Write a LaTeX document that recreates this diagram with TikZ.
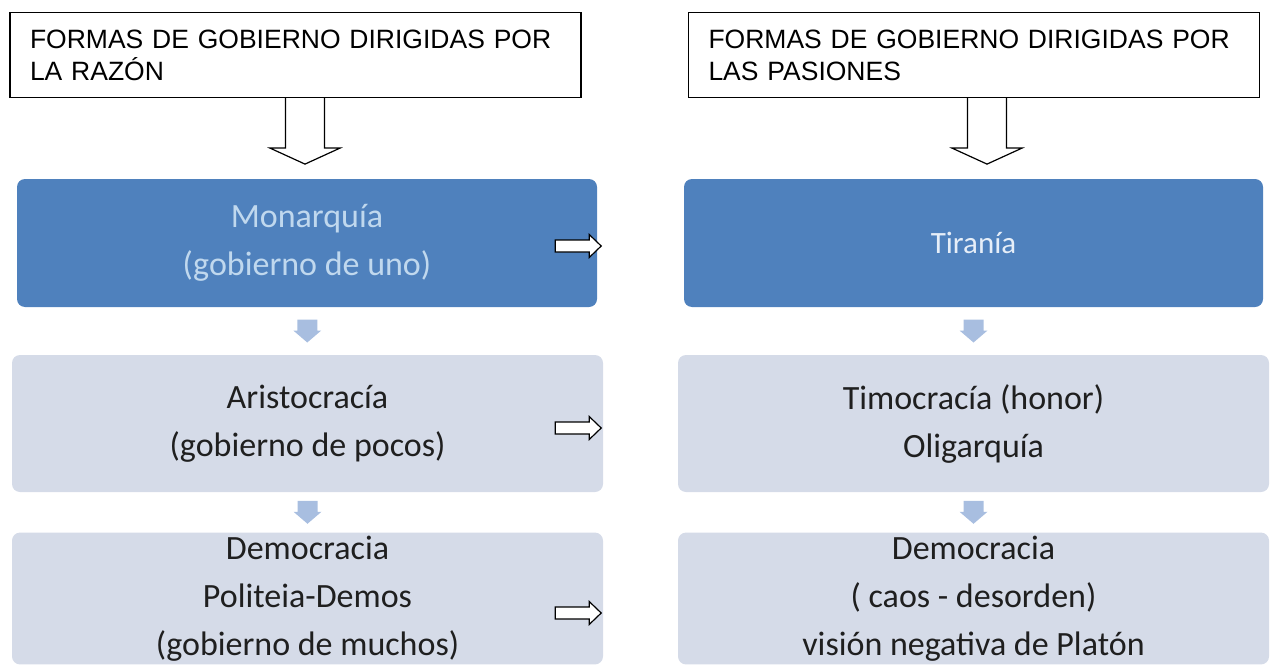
\documentclass[tikz,border=0pt]{standalone}
\usepackage{fontspec}
\newfontfamily\arialf{Liberation Sans}
\newfontfamily\calibrif{Carlito}
\usetikzlibrary{positioning,calc}
\definecolor{azulcaja}{HTML}{4F81BD}
\definecolor{grisclaro}{HTML}{D5DBE8}
\definecolor{flechaclara}{HTML}{A8BEE0}
\definecolor{textoazul}{HTML}{C0D8EE}
\definecolor{textoblanco}{HTML}{E6EEF8}
\tikzset{
    esquema/.style={
        x=1pt, y=-1pt,
        % Estilo para los titulos (rectangulo con borde negro)
        titulo/.style={draw, rectangle, line width=1.2pt, align=left,
                       minimum width=571pt, minimum height=85pt,
                       text width=531pt, inner xsep=20pt,
                       font=\arialf\fontsize{26.5}{32}\selectfont},
        % Estilo para las cajas azules
        cajaazul/.style={rectangle, rounded corners=8pt, fill=azulcaja,
                         align=center, text=textoazul,
                         font=\calibrif\fontsize{34}{48}\selectfont},
        % Estilo para las cajas claras
        cajaclara/.style={rectangle, rounded corners=8pt, fill=grisclaro,
                          align=center, text=black!88,
                          font=\calibrif\fontsize{34}{48}\selectfont},
        % Flechas huecas y flechas pequenas
        flechahueca/.style={draw, line width=1.2pt, fill=white, line join=miter},
        flechita/.style={fill=flechaclara, draw=none}
    }
}
\begin{document}
\begin{tikzpicture}[esquema]
    \useasboundingbox (0,0) rectangle (1274,666);
    \clip (0,0) rectangle (1274,666);

    \node[titulo] (razon) at (295.5,55) {FORMAS DE GOBIERNO DIRIGIDAS POR\\LA RAZÓN};
    \node[titulo] (pasion) at (974,55) {FORMAS DE GOBIERNO DIRIGIDAS POR\\LAS PASIONES};

    \node[cajaazul, minimum width=580pt, minimum height=128pt] (monarquia) at (307,243)
        {Monarquía\\(gobierno de uno)};
    \node[cajaazul, minimum width=579pt, minimum height=128pt, text=textoblanco,
          font=\calibrif\fontsize{31}{36}\selectfont] (tirania) at (973.5,243) {Tiranía};

    \node[cajaclara, minimum width=591pt, minimum height=137pt] (aristo) at (307.5,423.5)
        {Aristocracía\\(gobierno de pocos)};
    \node[cajaclara, minimum width=591pt, minimum height=137pt] (timo) at (973.5,423.5)
        {Timocracía (honor)\\Oligarquía};

    \node[cajaclara, minimum width=591pt, minimum height=131pt] (demoizq) at (307.5,598.5)
        {Democracia\\Politeia-Demos\\(gobierno de muchos)};
    \node[cajaclara, minimum width=591pt, minimum height=131pt] (demoder) at (973.5,598.5)
        {Democracia\\( caos - desorden)\\visión negativa de Platón};

    % flechas huecas hacia abajo
    \draw[flechahueca] ([xshift=-10pt]razon.south) -- ++(0,50) -- ++(-15.5,0)
        -- ++(35,16) -- ++(35,-16) -- ++(-15.5,0) -- ++(0,-50);
    \draw[flechahueca] ([xshift=-6.5pt]pasion.south) -- ++(0,50) -- ++(-15.5,0)
        -- ++(35,16) -- ++(35,-16) -- ++(-15.5,0) -- ++(0,-50);

    % flechas pequenas entre cajas
    \foreach \a/\b in {monarquia/aristo, aristo/demoizq, tirania/timo, timo/demoder}
        \fill[flechita] ($(\a.south)!0.5!(\b.north)$) ++(-10,-11.5) -- ++(20,0) -- ++(0,11)
            -- ++(4,0) -- ++(-14,12) -- ++(-14,-12) -- ++(4,0) -- cycle;

    % flechas huecas hacia la derecha
    \foreach \n/\dx/\dy in {monarquia/-42/-3, aristo/-48/-1.5, demoizq/-48/8.5}
        \draw[flechahueca] ($(\n.east)+(\dx,\dy)$) -- ++(34,0) -- ++(0,-5.5)
            -- ++(12,11.5) -- ++(-12,11.5) -- ++(0,-5.5) -- ++(-34,0) -- cycle;
\end{tikzpicture}
\end{document}
